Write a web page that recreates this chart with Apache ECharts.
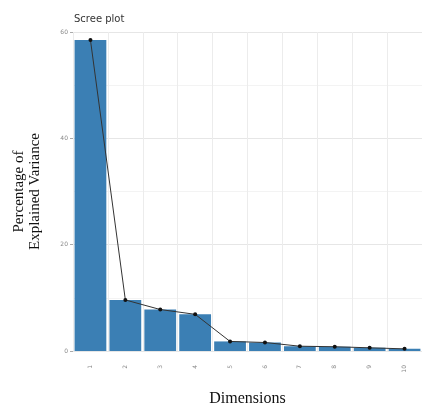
<!DOCTYPE html>
<html>
<head>
<meta charset="utf-8">
<script src="https://cdn.jsdelivr.net/npm/echarts@6/dist/echarts.min.js"></script>
<style>html,body{margin:0;padding:0;background:#fff;}#c{width:422px;height:412px;}</style>
</head>
<body>
<div id="c"></div>
<script>
const categories = ['1','2','3','4','5','6','7','8','9','10'];
const variance = [58.5, 9.6, 7.8, 6.9, 1.8, 1.6, 0.9, 0.8, 0.6, 0.4];
const yTicks = [0, 20, 40, 60];

const chart = echarts.init(document.getElementById('c'), null, {renderer: 'canvas'});
chart.setOption({
  animation: false,
  backgroundColor: '#ffffff',
  title: {
    text: 'Scree plot',
    left: 69, top: 9,
    textStyle: {fontFamily: 'DejaVu Sans', fontSize: 10, fontWeight: 'normal', color: '#333'}
  },
  grid: {left: 73, top: 32, width: 353, height: 324},
  xAxis: {
    type: 'category',
    data: categories,
    name: 'Dimensions',
    nameLocation: 'middle',
    nameGap: 40,
    nameTextStyle: {fontFamily: 'Liberation Serif', fontSize: 16, color: '#111'},
    axisLine: {show: false},
    axisTick: {show: false},
    axisLabel: {rotate: 90, margin: 14, fontSize: 6, color: '#888', fontFamily: 'DejaVu Sans'},
    splitLine: {show: true, lineStyle: {color: '#ececec', width: 1}}
  },
  yAxis: {
    type: 'value',
    min: 0, max: 60, interval: 20,
    name: 'Percentage of\nExplained Variance',
    nameLocation: 'middle',
    nameRotate: 90,
    nameGap: 30,
    nameTextStyle: {fontFamily: 'Liberation Serif', fontSize: 15, color: '#111', lineHeight: 16},
    axisLine: {show: false},
    axisTick: {show: true, length: 3, lineStyle: {color: '#aaa'}},
    axisLabel: {fontSize: 6, color: '#888', margin: 5, fontFamily: 'DejaVu Sans',
      formatter: v => yTicks.includes(v) ? String(v) : ''},
    splitLine: {show: true, lineStyle: {color: '#e6e6e6', width: 1}},
    minorTick: {show: false, splitNumber: 2},
    minorSplitLine: {show: true, lineStyle: {color: '#f3f3f3', width: 1}}
  },
  series: [
    {
      type: 'bar',
      data: variance,
      barCategoryGap: '9%',
      itemStyle: {color: '#3b7fb4'},
      z: 2
    },
    {
      type: 'line',
      data: variance,
      symbol: 'circle',
      symbolSize: 4,
      itemStyle: {color: '#111'},
      lineStyle: {color: '#333', width: 1},
      z: 3
    }
  ]
});
</script>
</body>
</html>
